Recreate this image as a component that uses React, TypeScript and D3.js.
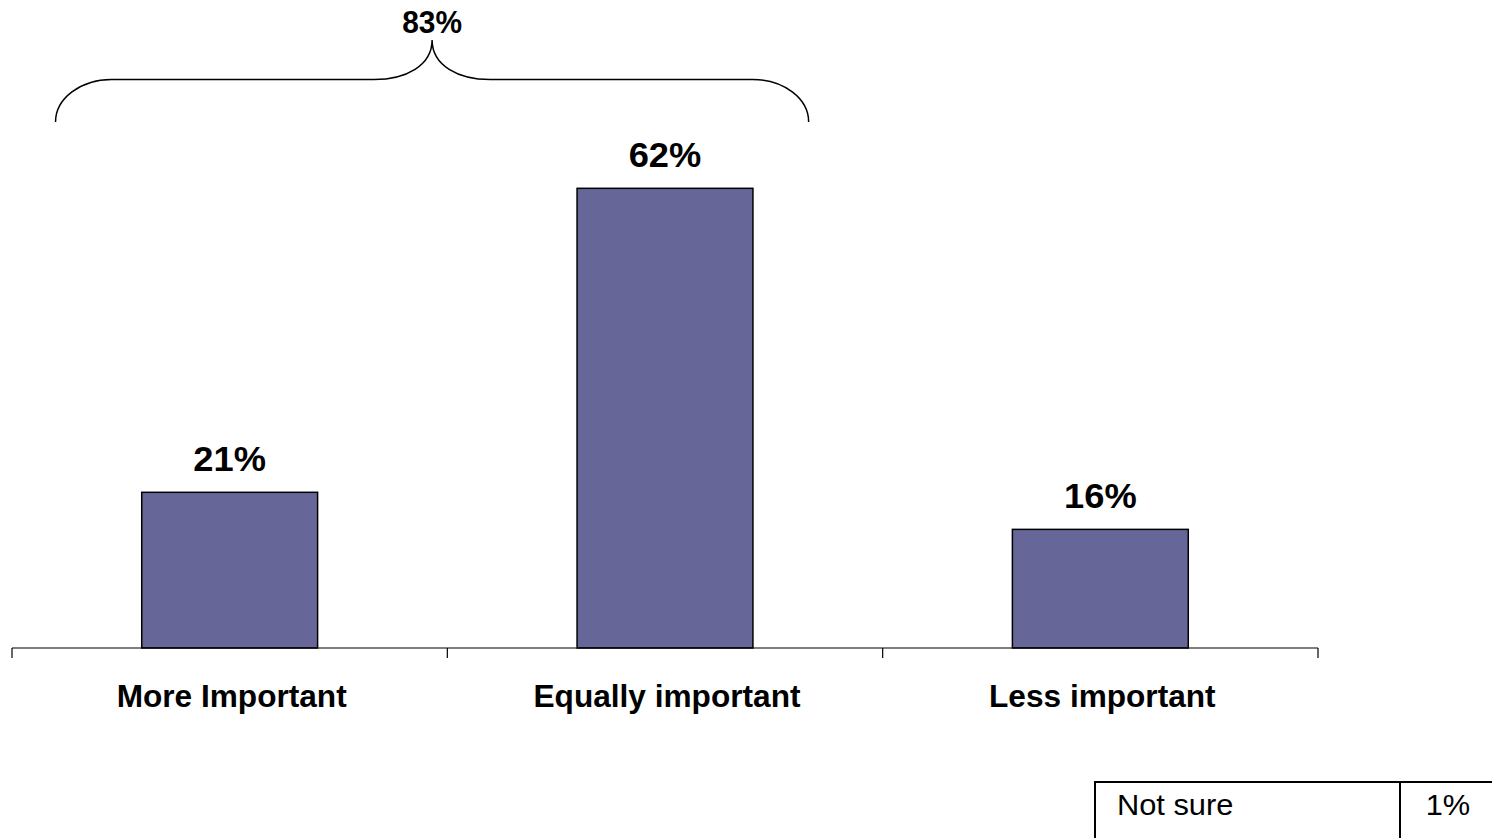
import React from "react";
import * as d3 from "d3";

const categories = ["More Important", "Equally important", "Less important"];
const values = [21, 62, 16];
const braceTotal = "83%";
const tableLabels = ["Not sure"];
const tableValues = ["1%"];

const W = 1492;
const H = 838;

export default function App() {
  const x = d3.scaleBand<string>().domain(categories).range([12, 1318]).paddingInner(0).paddingOuter(0);
  const y = d3.scaleLinear().domain([0, 70]).range([648, 129]);
  const step = x.step();
  const barW = step * 0.404;
  const font = "Arial, 'Liberation Sans', Helvetica, sans-serif";

  // brace geometry from band positions
  const bL = (x(categories[0]) as number) + step * 0.1;
  const bR = (x(categories[1]) as number) + step * 0.83;
  const bMid = (bL + bR) / 2;
  const yEnd = 122, yH = 79.5, yTip = 40;
  const cw = 56, mw = 58;
  const ch = yEnd - yH;
  const k = 0.552;
  const bracePath = [
    `M${bL},${yEnd}`,
    `C${bL},${yEnd - k * ch} ${bL + cw - k * cw},${yH} ${bL + cw},${yH}`,
    `L${bMid - mw},${yH}`,
    `C${bMid - mw * 0.45},${yH} ${bMid},${yH - 14} ${bMid},${yTip}`,
    `M${bMid},${yTip}`,
    `C${bMid},${yH - 14} ${bMid + mw * 0.45},${yH} ${bMid + mw},${yH}`,
    `L${bR - cw},${yH}`,
    `C${bR - cw + k * cw},${yH} ${bR},${yEnd - k * ch} ${bR},${yEnd}`,
  ].join(" ");

  const ticks = [...categories.map((c) => x(c) as number), 1318];

  return (
    <svg width={W} height={H} style={{ position: "absolute", left: 0, top: 0, background: "#fff" }} fontFamily={font}>
      <rect x={0} y={0} width={W} height={H} fill="#fff" />
      {categories.map((c, i) => {
        const cx = (x(c) as number) + step / 2;
        return (
          <g key={c}>
            <rect x={cx - barW / 2} y={y(values[i])} width={barW} height={y(0) - y(values[i])} fill="#666699" stroke="#000" strokeWidth={1.5} />
            <text transform={`translate(${cx},${y(values[i]) - 21}) scale(1.1,1.04)`} textAnchor="middle" fontWeight="bold" fontSize={33} fill="#000">
              {values[i]}%
            </text>
            <text transform={`translate(${cx + 2},707) scale(1.02,1)`} textAnchor="middle" fontWeight="bold" fontSize={31} fill="#000">
              {c}
            </text>
          </g>
        );
      })}
      <line x1={12} x2={1318} y1={648} y2={648} stroke="#000" strokeWidth={1.2} />
      {ticks.map((t, i) => (
        <line key={i} x1={t} x2={t} y1={648} y2={658} stroke="#000" strokeWidth={1.2} />
      ))}
      <path d={bracePath} fill="none" stroke="#000" strokeWidth={1.5} />
      <text transform={`translate(${bMid},33) scale(1.03,1.05)`} textAnchor="middle" fontWeight="bold" fontSize={29} fill="#000">
        {braceTotal}
      </text>
      {tableLabels.map((l, i) => (
        <g key={l}>
          <rect x={1095} y={782 + i * 60} width={420} height={80} fill="none" stroke="#000" strokeWidth={2} />
          <line x1={1400} x2={1400} y1={782 + i * 60} y2={862 + i * 60} stroke="#000" strokeWidth={2} />
          <text transform={`translate(1117,${815 + i * 60}) scale(1.1,1.05)`} fontSize={28} fill="#000">{l}</text>
          <text transform={`translate(1448,${815 + i * 60}) scale(1.1,1.05)`} textAnchor="middle" fontSize={28} fill="#000">{tableValues[i]}</text>
        </g>
      ))}
    </svg>
  );
}
